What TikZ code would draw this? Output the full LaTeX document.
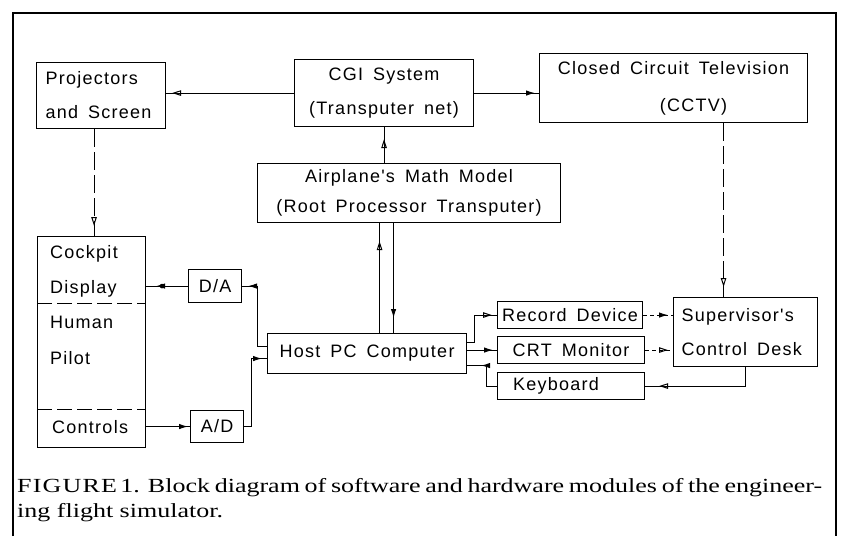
\documentclass[tikz,border=0pt]{standalone}
\usepackage{fontspec}
\setmainfont{Liberation Serif}
\newfontfamily\diafont[LetterSpace=7,WordSpace=1.6]{Liberation Sans}
\newfontfamily\capfont[FakeStretch=1.3]{Liberation Serif}
\usetikzlibrary{arrows.meta,decorations.markings}

\tikzset{
  box/.style={draw, line width=1.1pt, inner sep=0pt,
    font=\diafont\fontsize{18}{34}\selectfont},
  lbl/.style={inner sep=0pt, anchor=base west,
    font=\diafont\fontsize{18}{34}\selectfont},
  link/.style={line width=1pt},
  dlink/.style={line width=1pt, dash pattern=on 18pt off 5pt},
  sdlink/.style={line width=1pt, dash pattern=on 4pt off 3pt},
  tipf/.style={postaction={decorate}, decoration={markings,
    mark=at position #1 with {\arrow{Latex[length=9pt,width=5.5pt]}}}},
  tipo/.style={postaction={decorate}, decoration={markings,
    mark=at position #1 with {\arrow{Triangle[open,length=9pt,width=5.5pt,line width=1pt]}}}},
  captext/.style={inner sep=0pt, anchor=base west,
    font=\capfont\fontsize{20}{25}\selectfont},
}

\begin{document}
\begin{tikzpicture}[x=1pt,y=-1pt]
\useasboundingbox (0,0) rectangle (841,536);
\fill[white] (0,0) rectangle (841,536);

% outer frame (open at the bottom)
\draw[line width=1.4pt] (13,536) -- (13,13) -- (836,13) -- (836,536);

% blocks
\node[box, anchor=north west, minimum width=129pt, minimum height=66pt,
      text width=111pt, align=flush left] (proj) at (36,62) {Projectors\\and Screen};
\node[box, anchor=north west, minimum width=179pt, minimum height=67pt,
      align=center] (cgi) at (294,59) {CGI System\\(Transputer net)};
\node[box, anchor=north west, minimum width=268pt, minimum height=69pt,
      align=center, font=\diafont\fontsize{18}{37}\selectfont] (cctv) at (539,53)
      {Closed Circuit Television\\\hspace*{40pt}(CCTV)};
\node[box, anchor=north west, minimum width=303pt, minimum height=59pt,
      align=center, font=\diafont\fontsize{18}{30}\selectfont] (air) at (257,163)
      {Airplane's Math Model\\(Root Processor Transputer)};
\node[box, anchor=north west, minimum width=108pt, minimum height=211pt] (cock) at (37,236) {};
\node[box, anchor=north west, minimum width=53pt, minimum height=33pt] (da) at (188,269) {D/A};
\node[box, anchor=north west, minimum width=53pt, minimum height=32pt] (ad) at (190,410) {A/D};
\node[box, anchor=north west, minimum width=199pt, minimum height=40pt] (host) at (267,333) {Host PC Computer};
\node[box, anchor=north west, minimum width=145pt, minimum height=27pt] (rec) at (497,301) {Record Device};
\node[box, anchor=north west, minimum width=147pt, minimum height=27pt] (crt) at (497,336) {CRT Monitor};
\node[box, anchor=north west, minimum width=147pt, minimum height=27pt] (kbd) at (497,372) {Keyboard\hspace*{30pt}};
\node[box, anchor=north west, minimum width=144pt, minimum height=69pt,
      text width=128pt, align=flush left] (sup) at (673,297) {Supervisor's\\Control Desk};

% sections of the cockpit block
\node[lbl] (cockpitlbl) at (50,258) {Cockpit};
\node[lbl] (displaylbl) at (50,293) {Display};
\node[lbl] (humanlbl) at (50,328) {Human};
\node[lbl] (pilotlbl) at (50,364) {Pilot};
\node[lbl] (controlslbl) at (52,433) {Controls};
\coordinate (div1) at (37,303);
\coordinate (div2) at (37,409);
\draw[line width=1pt, dash pattern=on 15pt off 5pt] (div1) -- (div1 -| cock.east);
\draw[line width=1pt, dash pattern=on 15pt off 5pt] (div2) -- (div2 -| cock.east);

% connectors, top row
\draw[link, tipo=-6pt] (cgi.west) -- (cgi.west -| proj.east);
\draw[link, tipf=-4pt] (cgi.east) -- (cgi.east -| cctv.west);
\draw[link, tipo=-12pt] (air.north -| cgi.south) -- (cgi.south);
\draw[dlink, tipo=-10pt] ([xshift=-7pt]proj.south) -- ([xshift=-7pt]proj.south |- cock.north);
\draw[dlink, tipo=-10pt] ([xshift=50pt]cctv.south) -- ([xshift=50pt]cctv.south |- sup.north);

% math model and host computer
\draw[link, tipo=-18pt] ([xshift=12.5pt]host.north) -- ([xshift=12.5pt]host.north |- air.south);
\draw[link, tipf=-15pt] ([xshift=26.5pt]host.north |- air.south) -- ([xshift=26.5pt]host.north);

% cockpit interfaces
\draw[link, tipf=-10pt] (da.west) -- (da.west -| cock.east);
\fill ([xshift=-26pt]da.west) circle (2.3pt);
\draw[link, tipf=-2pt] (ad.west -| cock.east) -- (ad.west);
\draw[link, tipf=-6pt] ([yshift=7pt]host.west) -- ++(-10,0) |- (da.east);
\draw[link, tipf=-5pt] (ad.east) -- ++(7,0) |- ([yshift=-5pt]host.west);

% peripherals
\draw[link, tipo=-5pt] ([yshift=11pt]host.east) -- ++(7,0) |- (rec.west);
\draw[link, tipf=-4pt] (crt.west -| host.east) -- (crt.west);
\draw[link, tipf=-14pt] (kbd.west) -- ++(-11,0) |- ([yshift=-12pt]host.east);
\draw[sdlink, tipf=-5pt] (rec.east) -- (rec.east -| sup.west);
\draw[sdlink, tipo=-5pt] (crt.east) -- (crt.east -| sup.west);
\draw[link, tipo=-14pt] (sup.south) |- (kbd.east);

% caption
\node[captext] (cap1) at (17,492)
  {\makebox[805pt][s]{{\addfontfeature{LetterSpace=6}FIGURE}\,1. Block diagram of software and hardware modules of the engineer-}};
\node[captext] (cap2) at (17,517) {ing flight simulator.};
\end{tikzpicture}
\end{document}
